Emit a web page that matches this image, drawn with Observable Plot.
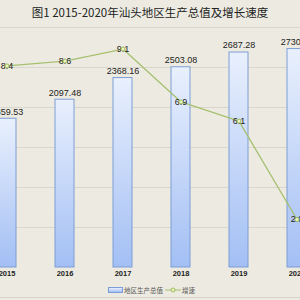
<!DOCTYPE html>
<html><head><meta charset="utf-8">
<script src="https://cdn.jsdelivr.net/npm/d3@7"></script>
<script src="https://cdn.jsdelivr.net/npm/@observablehq/plot@0.6"></script>
<style>
html,body{margin:0;padding:0;background:#edebe1;overflow:hidden;width:300px;height:300px;position:relative}
#title{height:24px;line-height:24px;text-align:center;font-family:"Noto Sans CJK SC",sans-serif;font-size:11.5px;color:#222;white-space:nowrap}
#chart{position:absolute;left:0;top:24px}
#legend{position:absolute;left:108px;top:284px;height:12px;display:flex;align-items:center;font-family:"Noto Sans CJK SC",sans-serif;font-size:6.5px;color:#555;white-space:nowrap}
#legend .sw{width:13px;height:4px;border:1px solid #7d9dd6;background:linear-gradient(#e9f0fd,#a3bff4);margin-right:1px}
#bottomline{position:absolute;left:0;top:297px;width:300px;height:1px;background:#d6d4ca}
</style></head><body>
<div id="title">图1 2015-2020年汕头地区生产总值及增长速度</div>
<div id="chart"></div>
<div id="legend"><span class="sw"></span><span>地区生产总值</span>
<svg width="16" height="8" style="margin:0 1px 0 2px"><line x1="0" y1="4" x2="16" y2="4" stroke="#a6c070" stroke-width="1"/><circle cx="8" cy="4" r="2" fill="#eef5c0" stroke="#9dbb5e"/></svg><span>增速</span></div>
<div id="bottomline"></div>
<script>
const years = ["2015","2016","2017","2018","2019","2020"];
const gdp = [1859.53, 2097.48, 2368.16, 2503.08, 2687.28, 2730.58];
const growth = [8.4, 8.6, 9.1, 6.9, 6.1, 2.0];
const gdpGrid = [500, 1000, 1500, 2000, 2500, 3000];
const gdpMax = 3000, growthMax = 10;
const ratio = gdpMax / growthMax;
const data = years.map((y, i) => ({year: y, gdp: gdp[i], growth: growth[i]}));

const defs = () => {
  const g = d3.create("svg:defs");
  const lg = g.append("linearGradient").attr("id", "barGrad")
    .attr("x1", 0).attr("y1", 0).attr("x2", 0).attr("y2", 1);
  lg.append("stop").attr("offset", "0%").attr("stop-color", "#e9f0fd");
  lg.append("stop").attr("offset", "100%").attr("stop-color", "#a3bff4");
  return g.node();
};

const chart = Plot.plot({
  width: 300, height: 260,
  marginTop: 3, marginBottom: 17, marginLeft: 0, marginRight: 0,
  style: {background: "transparent", overflow: "hidden", fontFamily: "Liberation Sans, Arial, sans-serif"},
  x: {domain: years, range: [-46, 348], padding: 0.678, axis: null},
  y: {domain: [0, gdpMax], axis: null},
  marks: [
    defs,
    Plot.ruleY(gdpGrid, {stroke: "#d9d7cd"}),
    Plot.barY(data, {x: "year", y: "gdp", fill: "url(#barGrad)", stroke: "#7d9dd6", strokeWidth: 1}),
    Plot.text(data, {x: "year", y: "gdp", text: d => d.gdp.toFixed(2), dy: -7, fontSize: 9, fill: "#222"}),
    Plot.line(data, {x: "year", y: d => d.growth * ratio, stroke: "#a6c070", strokeWidth: 1.3}),
    Plot.text(data, {x: "year", y: d => d.growth * ratio, text: d => d.growth.toFixed(1), fontSize: 9, fill: "#222"}),
    Plot.dot(data, {x: "year", y: d => d.growth * ratio, r: 2, fill: "#eef5c0", stroke: "#9dbb5e", strokeWidth: 1}),
    Plot.text(years, {x: d => d, frameAnchor: "bottom", dy: 8, fontSize: 7.5, fontWeight: "bold", fill: "#222"})
  ]
});
document.getElementById("chart").appendChild(chart);
</script>
</body></html>
